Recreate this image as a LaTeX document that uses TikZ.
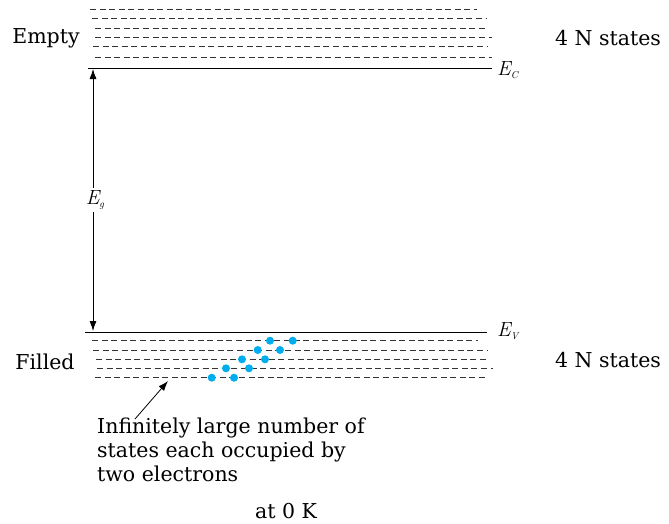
\documentclass[tikz,border=0pt]{standalone}
\usepackage{fontspec}
\setmainfont{DejaVu Serif}
\newfontfamily\lmfont{Latin Modern Roman}
\usetikzlibrary{arrows.meta,positioning}
\definecolor{electron}{RGB}{0,174,239}
\newcommand{\bandsym}[1]{{\lmfont\itshape E\raisebox{-0.35ex}{\fontsize{10}{10}\selectfont #1}}}
\tikzset{
    bandEdge/.style={draw=black, line width=0.9pt},
    stateLine/.style={draw=black!80, line width=0.8pt, dash pattern=on 6pt off 3.6pt},
    electronDot/.style={circle, fill=electron, inner sep=0pt, minimum size=8pt},
    lbl/.style={font=\fontsize{20.5}{24}\selectfont, inner sep=0pt},
    gapArrow/.style={{Latex[length=10pt,width=7pt]}-{Latex[length=10pt,width=7pt]}, line width=0.8pt},
    noteArrow/.style={-{Latex[length=10pt,width=7pt]}, line width=0.8pt}
}
\begin{document}
\begin{tikzpicture}[x=1pt, y=-1pt]
\useasboundingbox (0,0) rectangle (669,523);

% Conduction band (empty states)
\foreach \y/\xa/\xb in {9.3/90/477, 18.3/92/487, 28.3/95/488, 37.3/95/492, 46.7/93/487, 57.3/95/492} {
    \draw[stateLine] (\xa,\y) -- (\xb,\y);
}
\draw[bandEdge] (88,68.5) -- (492,68.5);
\node[lbl, anchor=west] (ec) at (497,70) {\bandsym{C}};
\node[lbl] (empty) at (46,38) {Empty};
\node[lbl] (statesC) at (608,38) {4 N states};

% Valence band (filled states)
\draw[bandEdge] (85,332) -- (487,332);
\node[lbl, anchor=west] (ev) at (497,331) {\bandsym{V}};
\foreach \y/\xa/\xb in {340.7/92/478, 350/93/488, 359.3/96/489, 368.3/97/493, 377.7/95/488} {
    \draw[stateLine] (\xa,\y) -- (\xb,\y);
}
\node[lbl] (filled) at (45,362) {Filled};
\node[lbl] (statesV) at (608,360) {4 N states};

% Electron pairs
\foreach \x/\y [count=\k] in {270/340.7, 292.7/340.7, 257.7/350, 280/350, 242/359.3, 265/359.3, 226/368.3, 249/368.3, 211.7/377.7, 234/377.7} {
    \node[electronDot] (e\k) at (\x,\y) {};
}

% Band gap
\coordinate (gapTop) at (93,69);
\coordinate (gapBot) at (93,331);
\draw[gapArrow] (gapTop) -- (gapBot);
\node[lbl, fill=white, inner sep=2pt] (eg) at (95,200) {\bandsym{g}};

% Note
\node[lbl, anchor=north west, align=left] (note) at (97,418) {Infinitely large number of\\states each occupied by\\two electrons};
\coordinate (noteTip) at (168,381);
\draw[noteArrow] ([xshift=38pt,yshift=-1pt]note.north west) -- (noteTip);
\node[lbl] (temp) at (286,511) {at 0 K};
\end{tikzpicture}
\end{document}
